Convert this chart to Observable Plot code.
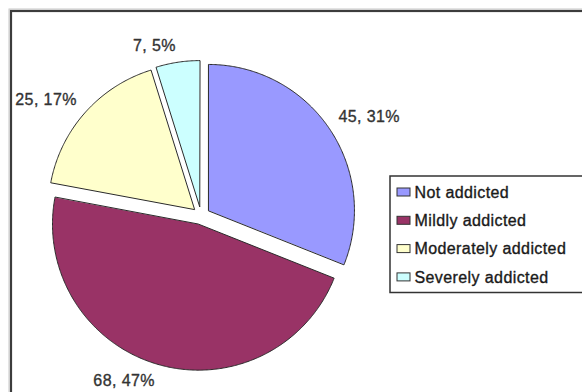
<!DOCTYPE html>
<html><head><meta charset="utf-8">
<script src="https://cdn.jsdelivr.net/npm/d3@7"></script>
<script src="https://cdn.jsdelivr.net/npm/@observablehq/plot@0.6"></script>
<style>body{margin:0;background:#fff}</style>
</head><body><div id="chart"></div>
<script>
// ---- data ----
const categories = ["Not addicted", "Mildly addicted", "Moderately addicted", "Severely addicted"];
const counts = [45, 68, 25, 7];
const colors = ["#9999ff", "#993366", "#ffffcc", "#ccffff"];

// ---- layout ----
const W = 582, H = 392;
const R = 146, CX = 200.5, CY = 215, EXPLODE = 9, LABEL_DIST = 166;
const toX = px => (px - CX) / R;
const toY = py => (CY - py) / R;

const total = d3.sum(counts);
const arcs = d3.pie().sort(null).value(d => d)(counts);

const slicePts = [];
arcs.forEach((a, i) => {
  const mid = (a.startAngle + a.endAngle) / 2;
  const ox = Math.sin(mid) * EXPLODE / R, oy = Math.cos(mid) * EXPLODE / R;
  slicePts.push({cat: categories[i], x: ox, y: oy});
  const n = Math.max(2, Math.ceil((a.endAngle - a.startAngle) / (Math.PI / 360)));
  for (let k = 0; k <= n; k++) {
    const t = a.startAngle + (a.endAngle - a.startAngle) * k / n;
    slicePts.push({cat: categories[i], x: ox + Math.sin(t), y: oy + Math.cos(t)});
  }
});

const labels = arcs.map((a, i) => {
  const mid = (a.startAngle + a.endAngle) / 2;
  const d = LABEL_DIST / R;
  return {
    text: `${counts[i]}, ${Math.round(counts[i] / total * 100)}%`,
    x: Math.sin(mid) * d, y: Math.cos(mid) * d,
    textAnchor: Math.sin(mid) >= 0 ? "start" : "end",
    lineAnchor: Math.cos(mid) >= 0 ? "bottom" : "top"
  };
});

const legendRows = categories.map((c, i) => ({cat: c, py: 192 + i * 28.3}));

const textStyle = {fontSize: 16, strokeWidth: 0.35, paintOrder: "fill"};

const labelMarks = labels.map(l => Plot.text([l], {
  x: "x", y: "y", text: "text", textAnchor: l.textAnchor, lineAnchor: l.lineAnchor,
  fill: "#333", stroke: "#333", ...textStyle
}));

const plot = Plot.plot({
  width: W, height: H, margin: 0,
  x: {domain: [toX(0), toX(W)], range: [0, W], axis: null},
  y: {domain: [toY(H), toY(0)], range: [H, 0], axis: null},
  color: {domain: categories, range: colors},
  style: {fontFamily: "'Liberation Sans', Arial, sans-serif", fontSize: "16px", letterSpacing: "0.4px", background: "#fff"},
  marks: [
    Plot.frame({insetLeft: 8.5, insetTop: 8.5, insetRight: -10, insetBottom: -10, stroke: "#c8c8c8", strokeWidth: 1}),
    Plot.frame({insetLeft: 10.5, insetTop: 10.5, insetRight: -10, insetBottom: -10, stroke: "#3c3c3c", strokeWidth: 2.2}),
    Plot.line(slicePts, {x: "x", y: "y", z: "cat", fill: "cat", stroke: "#2a2a2a", strokeWidth: 1, curve: "linear-closed"}),
    ...labelMarks,
    Plot.frame({insetLeft: 389.5, insetTop: 175.5, insetBottom: 100, insetRight: -5, stroke: "#333", strokeWidth: 1.5, fill: "#fff"}),
    Plot.rect(legendRows, {x1: () => toX(397), x2: () => toX(410), y1: d => toY(d.py - 4), y2: d => toY(d.py + 4), fill: "cat", stroke: "#333", strokeWidth: 1}),
    Plot.text(legendRows, {x: () => toX(414), y: d => toY(d.py), text: "cat", textAnchor: "start", fill: "#1a1a1a", stroke: "#1a1a1a", ...textStyle})
  ]
});
document.getElementById("chart").appendChild(plot);
</script>
</body></html>
